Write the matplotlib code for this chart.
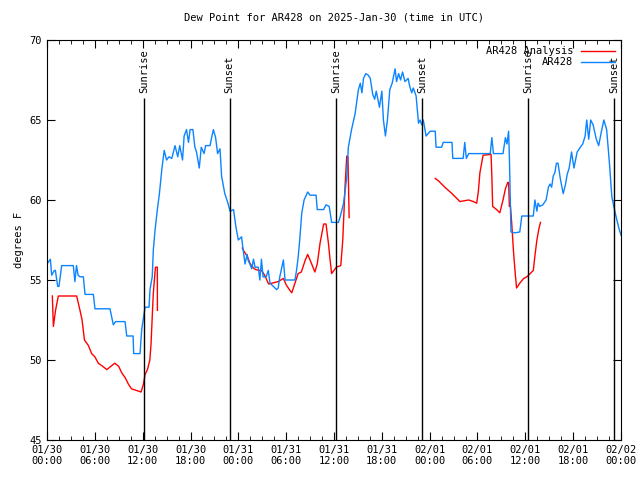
import numpy as np
import matplotlib
matplotlib.use("Agg")
import matplotlib.pyplot as plt

# hours since 2025-01-30 00:00 UTC (10 values per row)
obs_hours = [0, 0.42, 0.59, 0.92, 1.05, 1.34, 1.5, 1.84, 3.3, 3.5,
             3.7, 3.9, 4.14, 4.56, 4.77, 5.81, 6.02, 7.9, 8.32, 8.6,
             9.79, 10.0, 10.8, 10.87, 11.67, 11.88, 12.3, 12.8, 12.92, 13.2,
             13.34, 13.55, 13.84, 14.1, 14.4, 14.7, 15.0, 15.3, 15.65, 16.06,
             16.4, 16.65, 17.0, 17.2, 17.5, 17.75, 17.95, 18.3, 18.55, 18.75,
             19.1, 19.35, 19.7, 19.9, 20.45, 20.65, 20.87, 21.15, 21.4, 21.7,
             21.9, 22.3, 22.7, 22.96, 23.4, 23.7, 24.0, 24.4, 24.55, 24.84,
             25.1, 25.25, 25.45, 25.68, 25.9, 26.1, 26.5, 26.7, 26.9, 27.1,
             27.5, 27.75, 27.98, 28.4, 28.8, 29.0, 29.2, 29.65, 29.86, 31.1,
             31.3, 31.5, 31.7, 31.96, 32.25, 32.7, 33.0, 33.75, 33.9, 34.7,
             35.0, 35.4, 35.7, 36.55, 36.75, 37.2, 37.4, 37.6, 37.8, 38.2,
             38.65, 39.06, 39.3, 39.5, 39.7, 40.0, 40.3, 40.55, 40.86, 41.1,
             41.3, 41.7, 42.0, 42.2, 42.45, 42.7, 43.0, 43.3, 43.66, 43.85,
             44.1, 44.35, 44.6, 44.9, 45.3, 45.5, 45.75, 45.95, 46.3, 46.6,
             46.8, 47.0, 47.2, 47.55, 48.06, 48.7, 48.8, 49.5, 49.7, 50.8,
             50.9, 52.2, 52.4, 52.6, 52.9, 55.6, 55.8, 56.0, 57.2, 57.5,
             57.7, 57.9, 58.0, 58.2, 58.7, 59.3, 59.56, 61.0, 61.2, 61.45,
             61.6, 61.8, 62.2, 62.6, 62.9, 63.1, 63.3, 63.5, 63.7, 63.9,
             64.1, 64.4, 64.75, 65.05, 65.25, 65.5, 65.8, 66.1, 66.5, 66.9,
             67.2, 67.5, 67.7, 67.95, 68.2, 68.5, 68.9, 69.2, 69.55, 69.85,
             70.2, 70.55, 70.85, 71.27, 71.7, 72.0]
obs_dewpt = [56.0, 56.3, 55.3, 55.6, 55.6, 54.6, 54.6, 55.9, 55.9, 54.9,
             55.9, 55.3, 55.2, 55.2, 54.1, 54.1, 53.2, 53.2, 52.2, 52.4,
             52.4, 51.5, 51.5, 50.4, 50.4, 51.9, 53.3, 53.3, 54.4, 55.2,
             56.9, 58.1, 59.4, 60.4, 61.9, 63.1, 62.5, 62.7, 62.6, 63.4,
             62.7, 63.4, 62.5, 64.0, 64.4, 63.6, 64.4, 64.4, 63.3, 63.0,
             62.0, 63.3, 62.9, 63.4, 63.4, 63.9, 64.4, 63.9, 62.9, 63.2,
             61.5, 60.4, 59.8, 59.3, 59.4, 58.3, 57.5, 57.7, 57.1, 56.0,
             56.6, 56.2, 56.0, 55.7, 56.3, 55.8, 55.8, 55.0, 56.3, 55.2,
             55.2, 55.6, 54.8, 54.6, 54.4, 54.5, 55.2, 56.25, 55.0, 55.0,
             55.6, 56.4, 57.5, 59.2, 60.0, 60.5, 60.3, 60.3, 59.4, 59.4,
             59.7, 59.6, 58.6, 58.6, 58.9, 59.8, 60.6, 61.4, 63.3, 64.4,
             65.4, 66.9, 67.3, 66.7, 67.6, 67.9, 67.8, 67.6, 66.6, 66.3,
             66.8, 65.8, 66.8, 65.0, 64.0, 65.0, 66.9, 67.3, 68.2, 67.4,
             67.9, 67.5, 68.0, 67.4, 67.6, 67.1, 66.7, 67.0, 66.5, 64.8,
             65.0, 64.7, 65.0, 64.0, 64.3, 64.3, 63.3, 63.3, 63.6, 63.6,
             62.6, 62.6, 63.6, 62.6, 62.9, 62.9, 63.9, 62.9, 62.9, 63.9,
             63.5, 64.3, 62.7, 58.0, 57.95, 58.0, 59.0, 59.0, 60.0, 59.3,
             59.8, 59.6, 59.7, 60.0, 60.8, 61.0, 60.8, 61.5, 61.7, 62.3,
             62.3, 61.3, 60.4, 61.0, 61.6, 62.0, 63.0, 62.0, 63.0, 63.3,
             63.5, 64.0, 65.0, 63.8, 65.0, 64.7, 63.8, 63.4, 64.3, 65.0,
             64.4, 62.3, 60.2, 59.2, 58.3, 57.8]

ana_hours = [0.67, 0.8, 1.07, 1.42, 3.72, 4.14, 4.4, 4.7, 5.2, 5.6,
             6.0, 6.44, 7.0, 7.5, 8.0, 8.5, 9.0, 9.37, 9.8, 10.2,
             10.6, 11.2, 11.8, 12.1, 12.3, 12.6, 12.9, 13.05, 13.2, 13.34,
             13.6, 13.84, 13.85, np.nan,
             24.5, 24.7, 25.1, 25.5, 26.0, 26.5, 26.9, 27.3, 27.8, 28.2,
             29.0, 29.65, 30.0, 30.4, 30.7, 31.1, 31.5, 31.9, 32.4, 32.7,
             33.2, 33.6, 33.9, 34.25, 34.7, 35.0, 35.3, 35.5, 35.7, 36.0,
             36.3, 36.85, 37.1, 37.4, 37.6, 37.75, 37.9, np.nan,
             48.7, 49.1, 49.5, 49.9, 50.35, 50.8, 51.2, 51.8, 52.3, 52.9,
             53.5, 53.9, 54.1, 54.3, 54.7, 55.7, 55.8, 55.9, 56.4, 56.8,
             57.2, 57.5, 57.8, 57.9, 58.0, 58.1, 58.3, 58.5, 58.7, 58.9,
             59.3, 59.8, 60.2, 60.6, 61.0, 61.2, 61.45, 61.7, 61.9]
ana_dewpt = [54.0, 52.1, 53.1, 54.0, 54.0, 53.1, 52.5, 51.25, 50.9, 50.4,
             50.2, 49.8, 49.6, 49.4, 49.6, 49.8, 49.6, 49.2, 48.9, 48.5,
             48.2, 48.1, 48.0, 48.5, 49.1, 49.4, 50.0, 51.0, 52.7, 54.2,
             55.8, 55.8, 53.1, np.nan,
             57.0, 56.8, 56.5, 56.0, 55.7, 55.6, 55.6, 55.3, 54.75, 54.8,
             54.9, 55.1, 54.7, 54.4, 54.2, 54.8, 55.4, 55.5, 56.25, 56.6,
             56.0, 55.5, 56.0, 57.3, 58.5, 58.5, 57.3, 56.3, 55.4, 55.6,
             55.8, 55.9, 57.5, 61.0, 62.75, 62.7, 58.9, np.nan,
             61.35, 61.2, 61.0, 60.8, 60.6, 60.4, 60.2, 59.9, 59.95, 60.0,
             59.9, 59.8, 60.5, 61.7, 62.8, 62.85, 61.5, 59.6, 59.4, 59.2,
             60.0, 60.7, 61.1, 61.1, 59.6, 59.8, 58.5, 56.9, 55.6, 54.5,
             54.8, 55.1, 55.2, 55.4, 55.6, 56.5, 57.5, 58.2, 58.6]

sun_hours = [12.19, 22.91, 36.23, 47.03, 60.36, 71.16]
sun_labels = ["Sunrise", "Sunset", "Sunrise", "Sunset", "Sunrise", "Sunset"]

tick_hours = list(range(0, 73, 6))
tick_labels = ["01/30\n00:00", "01/30\n06:00", "01/30\n12:00", "01/30\n18:00",
               "01/31\n00:00", "01/31\n06:00", "01/31\n12:00", "01/31\n18:00",
               "02/01\n00:00", "02/01\n06:00", "02/01\n12:00", "02/01\n18:00",
               "02/02\n00:00"]

plt.rcParams['font.family'] = 'DejaVu Sans Mono'
plt.rcParams['font.size'] = 7.5

fig = plt.figure(figsize=(6.4, 4.8), dpi=100)
ax = fig.add_axes([47 / 640, 40 / 480, 574 / 640, 400 / 480])

ax.plot(ana_hours, ana_dewpt, color='#ff0000', lw=1, label='AR428 Analysis')
ax.plot(obs_hours, obs_dewpt, color='#0a84ff', lw=1, label='AR428')

for h, lab in zip(sun_hours, sun_labels):
    ax.vlines(h, 45, 66.35, color='black', lw=1)
    ax.text(h, 66.7, lab, rotation=90, ha='center', va='bottom', fontsize=7.5)

ax.set_xlim(0, 72)
ax.set_ylim(45, 70)
ax.set_xticks(tick_hours)
ax.set_xticklabels(tick_labels)
ax.set_xticks(np.arange(0, 72.1, 1.5), minor=True)
ax.set_yticks([45, 50, 55, 60, 65, 70])
ax.tick_params(which='both', direction='in', top=True, right=True)
ax.tick_params(which='major', length=6)
ax.tick_params(which='minor', length=3)
ax.tick_params(axis='y', which='minor', left=False, right=False)

ax.set_ylabel('degrees F')
ax.set_title('Dew Point for AR428 on 2025-Jan-30 (time in UTC)', fontsize=7.5, pad=14)
ax.legend(loc='upper right', frameon=False, markerfirst=False, handlelength=3.2,
          borderaxespad=0.2, labelspacing=0.1, fontsize=7.5)

fig.savefig('out.png', dpi=100)
